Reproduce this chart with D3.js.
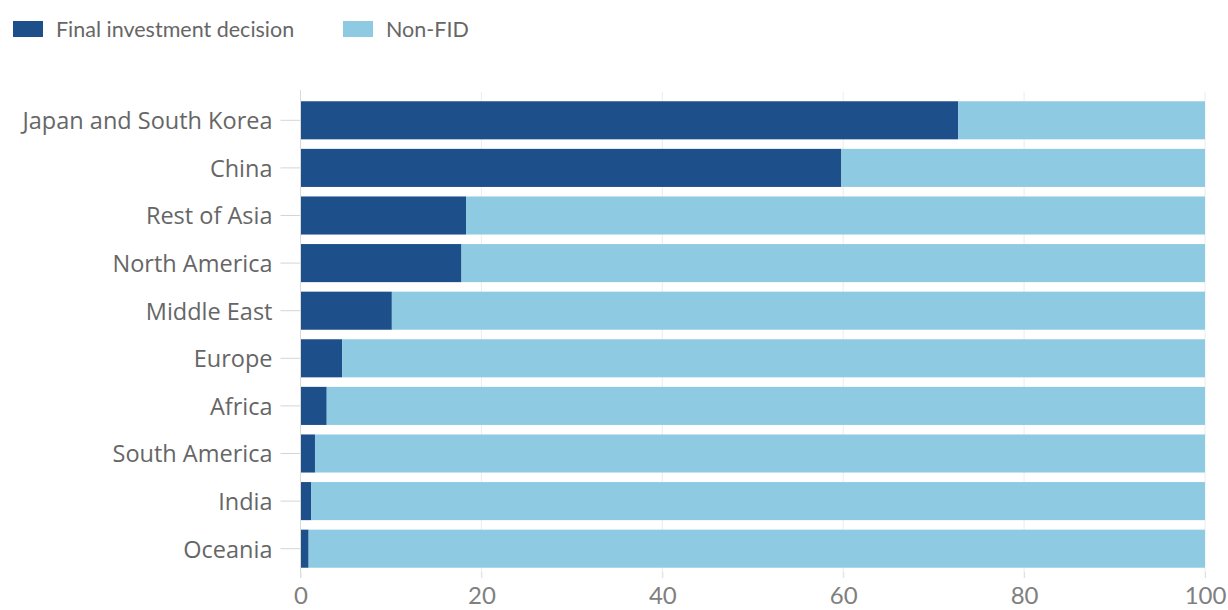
<!DOCTYPE html>
<html><head><meta charset="utf-8">
<script src="https://cdn.jsdelivr.net/npm/d3@7"></script>
<style>body{margin:0;background:#fff;} text{font-family:Lato, "Open Sans", sans-serif;}</style>
</head><body><svg id="c" width="1228" height="610"></svg>
<script>
const categories = ["Japan and South Korea","China","Rest of Asia","North America","Middle East","Europe","Africa","South America","India","Oceania"];
const fid = [72.7, 59.8, 18.3, 17.8, 10.1, 4.6, 2.9, 1.6, 1.2, 0.9];
const nonFid = fid.map(v => 100 - v);
const xTicks = [0, 20, 40, 60, 80, 100];
const seriesNames = ["Final investment decision", "Non-FID"];
const colors = ["#1d4f8b", "#8ecbe3"];

const svg = d3.select("#c");
const x = d3.scaleLinear().domain([0, 100]).range([300.5, 1205]);
const y = d3.scaleBand().domain(categories).range([96.5, 572.5]).paddingInner(0.2).paddingOuter(0.1);

// grid
svg.append("g").selectAll("line").data(xTicks.slice(1)).join("line")
  .attr("x1", d => x(d)).attr("x2", d => x(d)).attr("y1", 92).attr("y2", 578)
  .attr("stroke", "#ececec").attr("stroke-width", 1);

const data = categories.map((c, i) => ({c, fid: fid[i], non: nonFid[i]}));
const stack = d3.stack().keys(["fid", "non"])(data);
svg.append("g").selectAll("g").data(stack).join("g")
  .attr("fill", (d, i) => colors[i])
  .selectAll("rect").data(d => d).join("rect")
  .attr("x", d => x(d[0])).attr("width", d => x(d[1]) - x(d[0]))
  .attr("y", d => y(d.data.c)).attr("height", y.bandwidth());

// y axis
const ya = svg.append("g").attr("transform", "translate(300.5,0)")
  .call(d3.axisLeft(y).tickSize(20).tickPadding(8));
ya.select(".domain").attr("stroke", "#d9d9d9").attr("d", "M0,90V578");
ya.selectAll(".tick line").attr("stroke", "#d5d5d5");
ya.selectAll(".tick text").attr("fill", "#666").attr("font-size", 23.5)
  .style("font-family", "'Open Sans', sans-serif").attr("dy", "0.38em");

// x axis
const xa = svg.append("g").attr("transform", "translate(0,572)")
  .call(d3.axisBottom(x).tickValues(xTicks).tickSize(6).tickPadding(9));
xa.select(".domain").remove();
xa.selectAll(".tick line").attr("stroke", "#e0e0e0");
xa.selectAll(".tick text").attr("fill", "#808080").attr("font-size", 24);

// legend
const leg = svg.append("g");
const legX = [13, 343];
seriesNames.forEach((n, i) => {
  leg.append("rect").attr("x", legX[i]).attr("y", 21).attr("width", 30).attr("height", 16).attr("fill", colors[i]);
  leg.append("text").attr("x", legX[i] + 43).attr("y", 29).attr("dy", "0.35em")
    .attr("fill", "#666").attr("font-size", 21.5).text(n);
});
</script></body></html>
